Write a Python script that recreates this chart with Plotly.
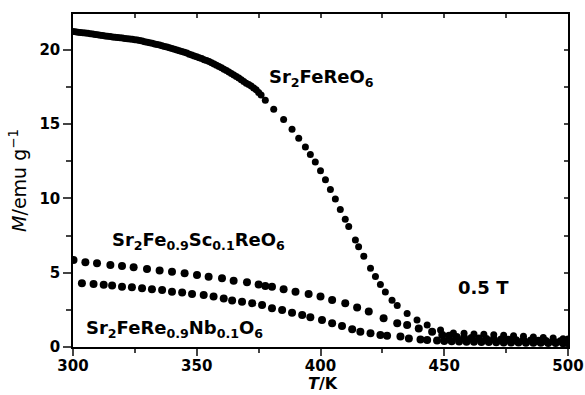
import plotly.graph_objects as go

# ---- data ----
T_main = (list(range(300, 377, 1))
          + [377.7, 381.1, 385.1, 388.5, 391.2, 393.9, 395.9, 397.9, 400, 402,
             404, 406, 408, 410, 411.4, 414.1, 415.4, 417.5, 420.2, 422.2,
             424.2, 426.2, 428.9, 431, 435, 439, 443.1, 448.5, 453.7,
             458, 462, 466, 470, 474, 478, 482, 486, 490, 494, 498, 500])
M_main = [21.22, 21.20, 21.18, 21.16, 21.14, 21.12, 21.10, 21.07, 21.05, 21.02,
          21.00, 20.97, 20.95, 20.92, 20.90, 20.88, 20.86, 20.84, 20.82, 20.80,
          20.78, 20.76, 20.74, 20.72, 20.70, 20.67, 20.65, 20.62, 20.58, 20.54,
          20.50, 20.47, 20.43, 20.39, 20.35, 20.31, 20.27, 20.22, 20.18, 20.13,
          20.08, 20.03, 19.98, 19.93, 19.88, 19.82, 19.77, 19.70, 19.64, 19.58,
          19.52, 19.46, 19.40, 19.33, 19.27, 19.20, 19.12, 19.04, 18.96, 18.87,
          18.78, 18.69, 18.60, 18.50, 18.40, 18.30, 18.20, 18.09, 17.98, 17.86,
          17.75, 17.65, 17.55, 17.42, 17.30, 17.12, 16.95,
          16.60, 16.00, 15.30, 14.65, 14.05, 13.45, 12.95, 12.45, 11.85, 11.25,
          10.60, 9.95, 9.25, 8.60, 8.10, 7.20, 6.75, 6.10, 5.30, 4.75,
          4.20, 3.70, 3.15, 2.80, 2.25, 1.82, 1.48, 1.14, 0.94,
          0.92, 0.88, 0.85, 0.82, 0.79, 0.76, 0.72, 0.68, 0.64, 0.60, 0.56, 0.54]

T_sc = [300.2, 305, 309.7, 315.1, 319.8, 324.5, 329.9, 335, 340, 345.1,
        350.1, 354.8, 360.2, 364.9, 370.3, 375, 377.7, 380.4, 385.1, 389.9,
        395.2, 400, 404.7, 410, 414.8, 419.5, 425.5, 431, 435, 439.7,
        445.1, 449.2, 452, 455, 458, 461, 464, 467, 470, 473,
        476, 479, 482, 485, 488, 491, 494, 497, 500]
M_sc = [5.86, 5.70, 5.63, 5.52, 5.45, 5.36, 5.25, 5.14, 5.07, 4.96,
        4.85, 4.73, 4.62, 4.46, 4.35, 4.20, 4.10, 4.06, 3.88, 3.72,
        3.57, 3.39, 3.16, 2.94, 2.65, 2.38, 1.93, 1.60, 1.48, 1.25,
        1.03, 0.80, 0.75, 0.68, 0.63, 0.60, 0.57, 0.54, 0.52, 0.50,
        0.48, 0.46, 0.45, 0.44, 0.42, 0.41, 0.40, 0.39, 0.38]

T_nb = [303.6, 308.3, 312.4, 315.8, 319.8, 323.8, 327.9, 331.9, 336, 340,
        344.1, 348.1, 352.8, 356.8, 360.9, 364.3, 368.3, 372.4, 376.4, 380.4,
        384.5, 388.5, 392.6, 395.9, 400.6, 404.7, 408.7, 412.8, 416.1, 420.2,
        424.2, 426.9, 432.3, 435.7, 440.4, 443.1, 447.1, 450, 453, 456,
        459, 462, 465, 468, 471, 474, 477, 480, 483, 486,
        489, 492, 495, 498, 500]
M_nb = [4.29, 4.24, 4.18, 4.13, 4.06, 4.02, 3.95, 3.89, 3.84, 3.72,
        3.66, 3.57, 3.50, 3.39, 3.27, 3.12, 3.05, 2.94, 2.83, 2.60,
        2.49, 2.31, 2.15, 2.00, 1.82, 1.60, 1.41, 1.19, 1.03, 0.92,
        0.81, 0.76, 0.70, 0.58, 0.51, 0.47, 0.43, 0.41, 0.39, 0.37,
        0.36, 0.35, 0.34, 0.33, 0.32, 0.31, 0.30, 0.30, 0.29, 0.28,
        0.28, 0.27, 0.27, 0.26, 0.26]

x_ticks = [300, 350, 400, 450, 500]
y_ticks = [0, 5, 10, 15, 20]

FONT = "DejaVu Sans"

fig = go.Figure()
for tx, my, sz in [(T_main, M_main, 7), (T_sc, M_sc, 8), (T_nb, M_nb, 8)]:
    fig.add_trace(go.Scatter(x=tx, y=my, mode="markers",
                             marker=dict(color="black", size=sz, line=dict(width=0)),
                             showlegend=False, hoverinfo="skip"))
# dummy trace for the mirrored (inside-tick) top/right axes
fig.add_trace(go.Scatter(x=[], y=[], xaxis="x2", yaxis="y2", showlegend=False,
                         hoverinfo="skip"))

xr = [300, 500]
yr = [0, 22.4]
fig.update_layout(
    width=585, height=395,
    margin=dict(l=73, r=17, t=14, b=48),
    paper_bgcolor="white", plot_bgcolor="white",
    font=dict(family=FONT, color="black"),
    xaxis=dict(range=xr, tickvals=x_ticks, ticks="outside", ticklen=7, tickwidth=1.5,
               showline=True, linecolor="black", linewidth=1.5, showgrid=False,
               zeroline=False, automargin=False, ticklabelstandoff=-3,
               minor=dict(dtick=25, ticks="outside", ticklen=4, tickwidth=1.5,
                          showgrid=False),
               tickfont=dict(family=FONT, size=15, weight="bold")),
    yaxis=dict(range=yr, tickvals=y_ticks, ticks="outside", ticklen=8, tickwidth=1.5,
               showline=True, linecolor="black", linewidth=1.5, showgrid=False,
               zeroline=False, automargin=False,
               minor=dict(dtick=2.5, ticks="outside", ticklen=5, tickwidth=1.5,
                          showgrid=False),
               tickfont=dict(family=FONT, size=15, weight="bold"),
               title=dict(text="<i>M</i>/emu g<sup>\u22121</sup>",
                          font=dict(family=FONT, size=19), standoff=8)),
    xaxis2=dict(range=xr, overlaying="x", side="top", anchor="y", dtick=25,
                tick0=300, ticks="inside", ticklen=4, tickwidth=1.5,
                showticklabels=False, showline=True, linecolor="black",
                linewidth=1.5, showgrid=False, zeroline=False, automargin=False),
    yaxis2=dict(range=yr, overlaying="y", side="right", anchor="x", dtick=2.5,
                tick0=0, ticks="inside", ticklen=4, tickwidth=1.5,
                showticklabels=False, showline=True, linecolor="black",
                linewidth=1.5, showgrid=False, zeroline=False, automargin=False),
)

# x-axis title as an annotation just under the tick labels
fig.add_annotation(text="<b><i>T</i>/K</b>", x=0.505, y=0, xref="paper", yref="paper",
                   xanchor="center", yanchor="bottom", yshift=-47, showarrow=False,
                   borderpad=0, font=dict(family=FONT, size=16, color="black"))

lab_font = dict(family=FONT, size=18, color="black", weight="bold")
labels = [
    ("Sr<sub>2</sub>FeReO<sub>6</sub>", 378.2, 18.1),
    ("Sr<sub>2</sub>Fe<sub>0.9</sub>Sc<sub>0.1</sub>ReO<sub>6</sub>", 315.1, 7.1),
    ("0.5 T", 454.9, 3.97),
    ("Sr<sub>2</sub>FeRe<sub>0.9</sub>Nb<sub>0.1</sub>O<sub>6</sub>", 304.3, 1.2),
]
for txt, ax_, ay_ in labels:
    fig.add_annotation(text=txt, x=ax_, y=ay_, xref="x", yref="y",
                       xanchor="left", yanchor="middle", showarrow=False,
                       font=lab_font)

fig.write_html("out.html")
